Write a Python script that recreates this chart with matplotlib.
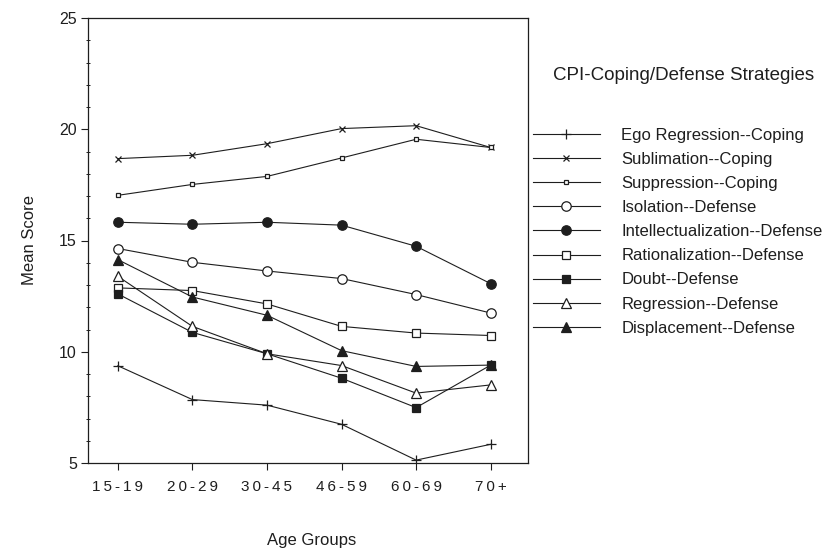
import matplotlib.pyplot as plt
from matplotlib.ticker import MultipleLocator

plt.rcParams['font.family'] = ['Liberation Sans', 'DejaVu Sans']

# age groups on the x axis
age_groups = ['15-19', '20-29', '30-45', '46-59', '60-69', '70+']

# mean scores per strategy
ego_regression = [9.37, 7.85, 7.6, 6.74, 5.13, 5.84]
sublimation = [18.68, 18.83, 19.35, 20.03, 20.16, 19.18]
suppression = [17.03, 17.52, 17.88, 18.71, 19.55, 19.18]
isolation = [14.64, 14.02, 13.63, 13.29, 12.57, 11.74]
intellectualization = [15.82, 15.73, 15.82, 15.69, 14.74, 13.06]
rationalization = [12.87, 12.75, 12.15, 11.14, 10.84, 10.73]
doubt = [12.6, 10.87, 9.91, 8.81, 7.49, 9.4]
regression = [13.39, 11.14, 9.91, 9.38, 8.14, 8.51]
displacement = [14.14, 12.46, 11.64, 10.05, 9.34, 9.4]

labels = ['Ego Regression--Coping', 'Sublimation--Coping', 'Suppression--Coping',
          'Isolation--Defense', 'Intellectualization--Defense',
          'Rationalization--Defense', 'Doubt--Defense', 'Regression--Defense',
          'Displacement--Defense']
series = [ego_regression, sublimation, suppression, isolation,
          intellectualization, rationalization, doubt, regression, displacement]

ink = '#1e1e1e'
# marker, size, face colour
styles = [('+', 6.5, ink), ('x', 4.0, ink), ('s', 3.2, 'white'),
          ('o', 6.8, 'white'), ('o', 6.8, ink), ('s', 6.3, 'white'),
          ('s', 6.3, ink), ('^', 6.8, 'white'), ('^', 6.8, ink)]

fig = plt.figure(figsize=(8.37, 5.5), dpi=100)
ax = fig.add_axes([88 / 837, 1 - 463 / 550, 440 / 837, 445 / 550])

x = list(range(len(age_groups)))
for vals, lab, (m, ms, fc) in zip(series, labels, styles):
    ax.plot(x, vals, color=ink, lw=0.8, marker=m, markersize=ms,
            markerfacecolor=fc, markeredgecolor=ink, markeredgewidth=0.9,
            label=lab)

ax.set_xlim(-0.4, 5.5)
ax.set_ylim(5, 25)
ax.set_xticks(x)
ax.set_xticklabels(['\u2009'.join(a) for a in age_groups], fontsize=11, color=ink)
ax.yaxis.set_major_locator(MultipleLocator(5))
ax.yaxis.set_minor_locator(MultipleLocator(1))
ax.tick_params(axis='y', which='major', length=5, width=0.8, labelsize=11.5,
               labelcolor=ink, color=ink, pad=3)
ax.tick_params(axis='y', which='minor', length=3, width=0.7, direction='inout', color=ink)
ax.tick_params(axis='x', length=5, width=0.8, color=ink, pad=7)
for s in ax.spines.values():
    s.set_linewidth(0.9)
    s.set_color(ink)

fig.text(312 / 837, 1 - 540 / 550, 'Age Groups', ha='center', va='center',
         fontsize=12, color=ink)
fig.text(30 / 837, 1 - 240 / 550, 'Mean Score', ha='center', va='center',
         rotation=90, fontsize=12, color=ink)
fig.text(553 / 837, 1 - 75 / 550, 'CPI-Coping/Defense Strategies', ha='left',
         va='center', fontsize=13.5, color=ink)

leg = fig.legend(loc='upper left', bbox_to_anchor=(533 / 837, 1 - 128 / 550),
                 frameon=False, fontsize=12, handlelength=4.0, handletextpad=1.3,
                 labelspacing=0.545, borderpad=0, borderaxespad=0)
for t in leg.get_texts():
    t.set_color(ink)

fig.savefig('out.png', dpi=100)
